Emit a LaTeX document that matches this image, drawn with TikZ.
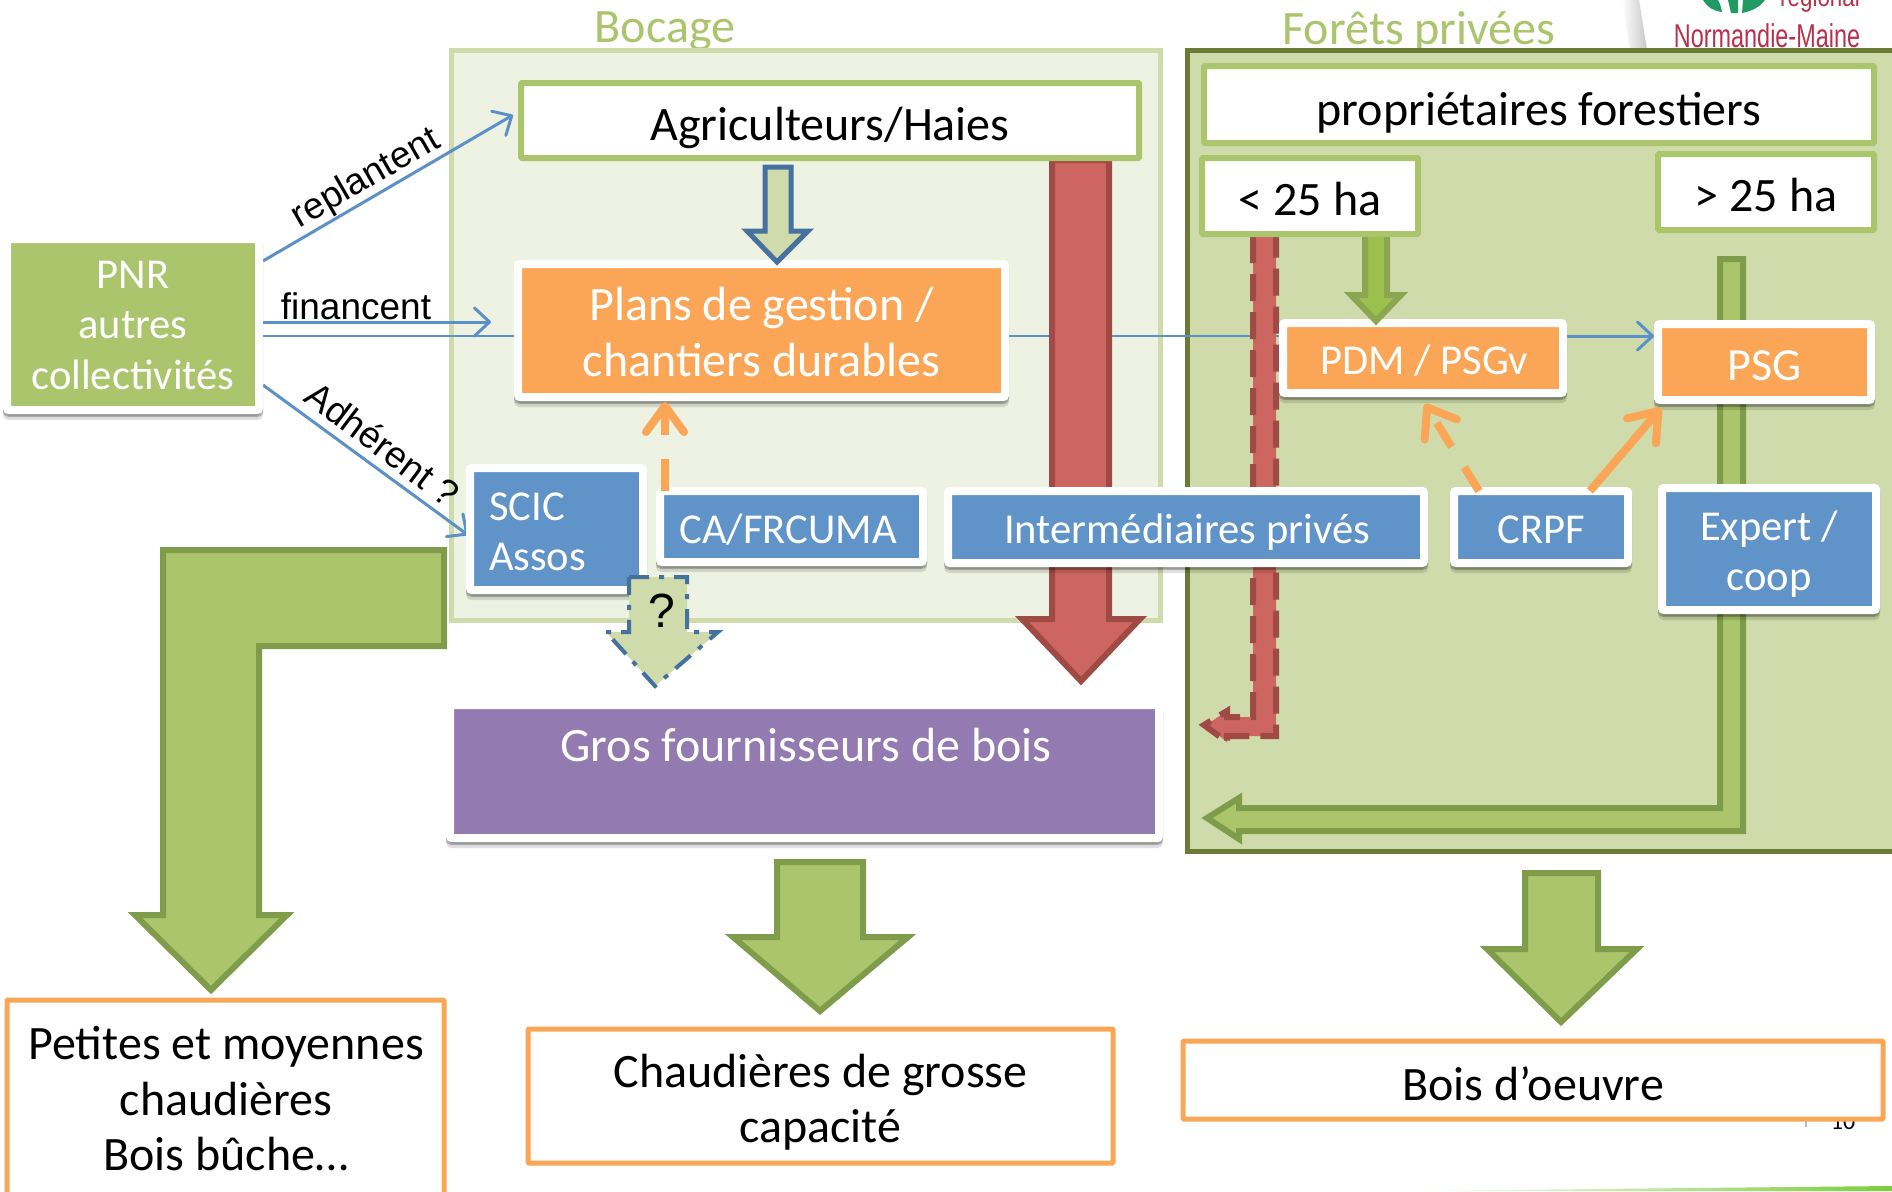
\documentclass[tikz,border=0pt]{standalone}
\usepackage{fontspec}
\setmainfont{Carlito}
\newfontfamily\arialf{Liberation Sans}
\usetikzlibrary{arrows.meta,shadows,calc}
\definecolor{cgreen}{HTML}{ABC56C}
\definecolor{cgreend}{HTML}{7F9C4B}
\definecolor{clight}{HTML}{CFDBAA}
\definecolor{cpale}{HTML}{EEF2E2}
\definecolor{colive}{HTML}{6B7B36}
\definecolor{corange}{HTML}{FAA656}
\definecolor{cblue}{HTML}{6093C8}
\definecolor{cblued}{HTML}{44719E}
\definecolor{cpurple}{HTML}{937AB0}
\definecolor{cred}{HTML}{CD6660}
\definecolor{credd}{HTML}{A04A45}
\definecolor{cline}{HTML}{5B90C8}
\definecolor{cmid}{HTML}{9CC04C}
\definecolor{cmidd}{HTML}{8AA651}
\definecolor{clogo}{HTML}{B9304C}
\definecolor{cleaf}{HTML}{1F9A62}
\tikzset{
  every node/.style={inner sep=0pt,outer sep=0pt},
  big/.style={font=\fontsize{48}{55.5}\selectfont,align=center,text=black},
  small/.style={font=\fontsize{42.6}{50.5}\selectfont,align=center,text=white},
  solidbox/.style={draw=white,line width=8pt,rounded corners=2pt,
     drop shadow={shadow xshift=0pt,shadow yshift=-3pt,opacity=.22,fill=black,draw=black},
     drop shadow={shadow xshift=0pt,shadow yshift=-6pt,opacity=.12,fill=black,draw=black}},
  greenline/.style={draw=cgreen,fill=white,line width=6pt,rounded corners=1pt},
  orangeline/.style={draw=corange,fill=white,line width=5pt,rounded corners=1pt},
  thinarrow/.style={draw=cline,line width=3pt,-{Straight Barb[length=15pt,width=28pt,round]}},
  thinline/.style={draw=cline,line width=2.5pt},
  orarrow/.style={draw=corange,line width=8pt,-{Straight Barb[length=26pt,width=38pt,round]}},
  blockgreen/.style={draw=cgreend,fill=cgreen,line width=6pt,miter limit=10},
  blockred/.style={draw=credd,fill=cred,line width=6pt,miter limit=10},
  lbl/.style={font=\arialf\fontsize{37}{40}\selectfont,text=black},
}
\newcommand\bx[6]{\node[#6,minimum width={(#4-#2)*1pt},minimum height={(#5-#3)*1pt}] (#1) at ({(#2+#4)/2},{(#3+#5)/2}) {};}
\newcommand\tx[5]{\node[#4] (#1) at (#2,#3) {#5};}
\begin{document}
\begin{tikzpicture}[x=1pt,y=-1pt]
\useasboundingbox (0,0) rectangle (1892,1191);
\fill[white] (0,0) rectangle (1892,1191);
% slide leftovers
\shade[left color=white,right color=black!22] (1622,0) -- (1639,0) -- (1647,50) -- (1630,50) -- cycle;
\fill[cleaf] (1703,0) .. controls (1708,8) and (1714,11) .. (1722,12) .. controls (1721,7) and (1720,3) .. (1718,0) -- cycle;
\fill[cleaf] (1728,0) -- (1731,13) -- (1738,13) -- (1738,0) -- cycle;
\fill[cleaf] (1743,0) -- (1742,13) .. controls (1752,11) and (1760,7) .. (1765,0) -- cycle;
\node[font=\arialf\fontsize{28}{30}\selectfont,text=clogo,xscale=.8,anchor=base] (logoa) at (1820,6) {régional};
\node[font=\arialf\fontsize{33}{35}\selectfont,text=clogo,xscale=.71,anchor=base] (logob) at (1767,47) {Normandie-Maine};
\node[font=\fontsize{24}{26}\selectfont,text=black,anchor=base] (pagenum) at (1843,1129) {10};
\draw[draw=cblue!60,line width=2pt] (1806,1118) -- (1806,1127);
\shade[left color=white,right color=cmid!80!green] (1400,1191) -- (1892,1186) -- (1892,1191) -- cycle;
% titles
\node[font=\fontsize{48}{50}\selectfont,text=cgreen] (tboc) at (665,31) {Bocage};
\node[font=\fontsize{48}{50}\selectfont,text=cgreen] (tfor) at (1419,32) {Forêts privées};
% regions
\bx{bocage}{451}{50}{1160}{620}{draw=clight,fill=cpale,line width=5pt}
\bx{forets}{1187}{50}{1900}{851}{draw=colive,fill=clight,line width=5pt}
% block arrows
\draw[blockgreen] (163,550) -- (444,550) -- (444,646) -- (259,646) -- (259,915) -- (287,915) -- (211,990) -- (135,915) -- (163,915) -- cycle;
\draw[blockgreen] (777,862) -- (863,862) -- (863,937) -- (908,937) -- (820,1011) -- (733,937) -- (777,937) -- cycle;
\draw[blockgreen] (1525,873) -- (1598,873) -- (1598,949) -- (1637,949) -- (1561,1022) -- (1487,949) -- (1525,949) -- cycle;
\draw[blockgreen] (1720,259) -- (1743,259) -- (1743,831) -- (1239,831) -- (1239,839) -- (1207,818) -- (1239,798) -- (1239,808) -- (1720,808) -- cycle;
% thin connectors
\coordinate (repA) at (263,261);
\coordinate (repB) at (513,115);
\coordinate (finA) at (263,322);
\coordinate (finB) at (491,322);
\coordinate (adhA) at (263,385);
\coordinate (adhB) at (468,535);
\draw[thinarrow] (repA) -- (repB);
\draw[thinarrow] (finA) -- (finB);
\draw[thinarrow] (adhA) -- (adhB);
\coordinate (planL) at (263,336);
\draw[thinline] (planL) -- (1300,336);
\draw[thinarrow] (1500,336) -- (1654,336);
% dashed red arrow
\fill[cred] (1253,236) -- (1253,717) -- (1227,717) -- (1227,711) -- (1206,725) -- (1227,742) -- (1227,736) -- (1276,736) -- (1276,236) -- cycle;
\draw[credd,line width=6pt,dash pattern=on 27pt off 11pt] (1253,236) -- (1253,717) -- (1227,717) -- (1227,711) -- (1204,725) -- (1227,742) -- (1227,736) -- (1276,736) -- (1276,236);
% red block arrow
\draw[blockred] (1052,160) -- (1109,160) -- (1109,619) -- (1140,619) -- (1081,681) -- (1022,619) -- (1052,619) -- cycle;
% boxes
\bx{pnr}{7}{239}{259}{410}{solidbox,fill=cgreen}
\tx{pnrt}{133}{325}{small}{PNR\\autres\\collectivités}
\bx{agri}{521}{83}{1139}{158}{greenline}
\tx{agrit}{830}{128}{big}{Agriculteurs/Haies}
\bx{plans}{518}{264}{1005}{397}{solidbox,fill=corange}
\tx{planst}{761.5}{332}{big,text=white}{Plans de gestion /\\chantiers durables}
\bx{scic}{470}{468}{643}{590}{solidbox,fill=cblue}
\tx{scict}{556.5}{532}{small,text width=135pt,align=left}{SCIC\\Assos}
\bx{cafr}{660}{491}{923}{562}{solidbox,fill=cblue}
\tx{cafrt}{788}{530}{small}{CA/FRCUMA}
\bx{inter}{948}{491}{1424}{563}{solidbox,fill=cblue}
\tx{intert}{1187}{532}{small}{Intermédiaires privés}
\bx{crpf}{1454}{491}{1628}{563}{solidbox,fill=cblue}
\tx{crpft}{1541}{530}{small}{CRPF}
\bx{expert}{1662}{488}{1876}{610}{solidbox,fill=cblue}
\tx{expertt}{1769}{554}{small}{Expert /\\coop}
\bx{pdm}{1283}{323}{1563}{393}{solidbox,fill=corange}
\tx{pdmt}{1424}{361}{small}{PDM / PSGv}
\bx{psg}{1658}{324}{1871}{400}{solidbox,fill=corange}
\tx{psgt}{1764.5}{366}{small,font=\fontsize{46}{50}\selectfont}{PSG}
\bx{gros}{450}{705}{1159}{838}{solidbox,fill=cpurple}
\tx{grost}{806}{745}{big,text=white}{Gros fournisseurs de bois}
\draw[draw=cmidd,fill=cmid,line width=6pt,miter limit=10] (1365,232) -- (1387,232) -- (1387,295) -- (1401,295) -- (1376,321) -- (1351,295) -- (1365,295) -- cycle;
\bx{prop}{1204}{66}{1874}{143}{greenline}
\tx{propt}{1539}{113}{big}{propriétaires forestiers}
\bx{moins}{1202}{158}{1418}{234}{greenline}
\tx{moinst}{1310}{199}{big}{< 25 ha}
\bx{plus}{1658}{154}{1874}{230}{greenline}
\tx{plust}{1766}{195}{big}{> 25 ha}
\bx{petites}{7}{1000}{444}{1210}{orangeline}
\tx{petitest}{226}{1099}{big}{Petites et moyennes\\chaudières\\Bois bûche\dots}
\bx{chaud}{528}{1029}{1113}{1163}{orangeline}
\tx{chaudt}{820.5}{1102}{big}{Chaudières de grosse\\capacité}
\bx{boisd}{1183}{1041}{1883}{1119}{orangeline}
\tx{boisdt}{1533}{1084}{big}{Bois d’oeuvre}
% arrows between nodes
\draw[draw=cblued,fill=clight,line width=5pt,miter limit=10] (765,167) -- (791,167) -- (791,231) -- (808,231) -- (777,262) -- (747,231) -- (765,231) -- cycle;
\draw[draw=cblued,fill=clight,line width=4pt,dash pattern=on 20pt off 10pt on 5pt off 10pt] (629,577) -- (687,577) -- (687,632) -- (718,632) -- (655,686) -- (606,632) -- (629,632) -- cycle;
\node[font=\arialf\fontsize{48}{48}\selectfont,text=black] (qm) at (662,611) {?};
% orange
\draw[orarrow,dash pattern=on 32pt off 24pt] (665,491) -- (665,402);
\draw[orarrow,dash pattern=on 28pt off 24pt] (crpf.north -| 1479,0) -- (1425,404);
\draw[orarrow] (crpf.north -| 1590,0) -- (1661,408);
% labels
\node[lbl,rotate=30] (lrep) at (366,179) {replantent};
\node[lbl] (lfin) at (356,306) {financent};
\node[lbl,rotate=-37] (ladh) at (383,444) {Adhérent ?};
\end{tikzpicture}
\end{document}
